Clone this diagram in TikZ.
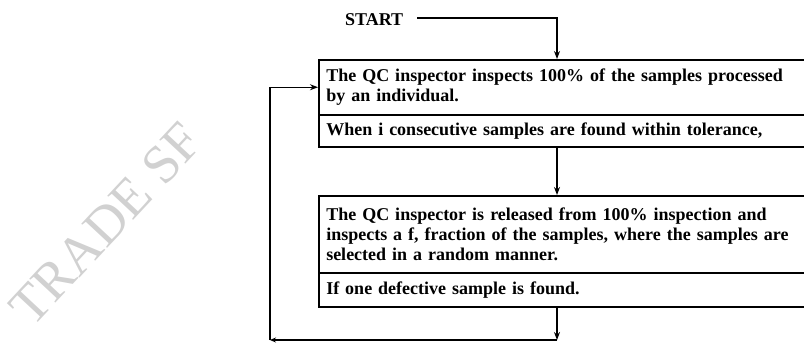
\documentclass[tikz,border=0pt]{standalone}
\usepackage{fontspec}
\setmainfont{Liberation Serif}
\usetikzlibrary{arrows.meta,calc}
\begin{document}
\begin{tikzpicture}[x=1pt,y=-1pt,
  boxpart/.style={draw=black, line width=1.5pt, anchor=north west, minimum width=560pt,
    text width=545pt, inner xsep=7pt, inner ysep=0pt, align=left,
    font=\bfseries\fontsize{18}{20}\selectfont},
  conn/.style={draw=black, line width=1.2pt},
  arr/.style={conn, -{Stealth[length=8pt,width=6pt]}},
  label/.style={font=\bfseries\fontsize{18}{20}\selectfont, inner sep=0pt}]
\useasboundingbox (0,0) rectangle (804,343);
% watermark
\node[rotate=47, text=black!18, font=\fontsize{54}{54}\selectfont, inner sep=0pt] (wm) at (106,224) {TRADE SF};
% start
\node[label, anchor=west] (start) at (345,20) {START};
\coordinate (cS) at (557,18);
\coordinate (cB) at (557,340);
\coordinate (cL) at (270,340);
% boxes
\node[boxpart, minimum height=55pt] (b1a) at (318,59)
  {The QC inspector inspects 100\% of the samples processed\\by an individual.};
\node[boxpart, minimum height=32pt] (b1b) at (318,114)
  {When i consecutive samples are found within tolerance,};
\node[boxpart, minimum height=77pt] (b2a) at (318,195)
  {The QC inspector is released from 100\% inspection and\\inspects a f, fraction of the samples, where the samples are\\selected in a random manner.};
\node[boxpart, minimum height=34pt] (b2b) at (318,272)
  {If one defective sample is found.};
% connectors
\draw[arr] ([xshift=14pt]start.east |- cS) -- (cS) -- (cS |- b1a.north);
\draw[arr] (cS |- b1b.south) -- (cS |- b2a.north);
\draw[arr] (cS |- b2b.south) -- (cB);
\draw[conn, -{Stealth[length=6pt,width=5pt]}] (cB) -- (cL);
\draw[arr] (cL) -- (cL |- b1a.west) -- (b1a.west);
\end{tikzpicture}
\end{document}
